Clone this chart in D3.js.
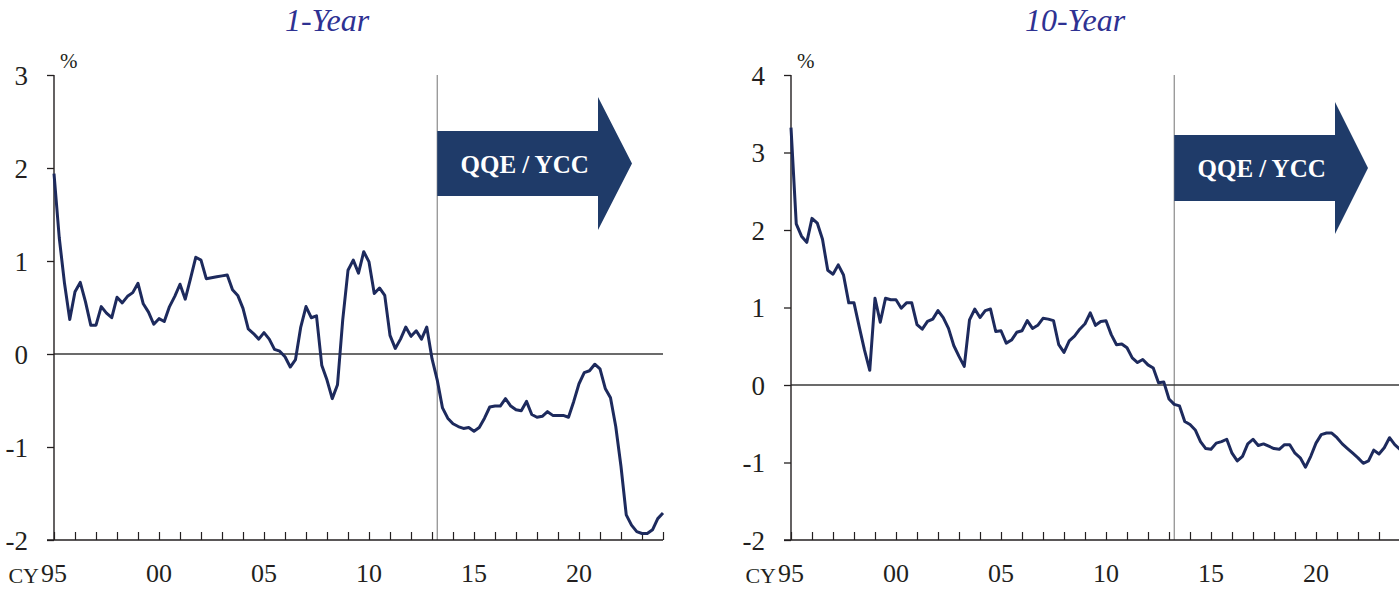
<!DOCTYPE html>
<html>
<head>
<meta charset="utf-8">
<script src="https://cdn.jsdelivr.net/npm/d3@7"></script>
<style>
  body { margin: 0; background: #fff; }
  text { font-family: "Liberation Serif", "Times New Roman", serif; }
</style>
</head>
<body>
<script>
// quarterly yields, 1995 Q1 .. 2024 Q1
var startYear = 1995;
var oneYear = [1.94, 1.25, 0.76, 0.37, 0.67, 0.77, 0.56, 0.31, 0.31, 0.51, 0.44, 0.39, 0.61, 0.55, 0.62, 0.66,
  0.76, 0.54, 0.45, 0.32, 0.38, 0.35, 0.51, 0.62, 0.75, 0.59, 0.81, 1.04, 1.01, 0.81, 0.82, 0.83,
  0.84, 0.85, 0.69, 0.63, 0.49, 0.27, 0.22, 0.16, 0.23, 0.16, 0.05, 0.03, -0.03, -0.14, -0.06, 0.29,
  0.51, 0.39, 0.41, -0.12, -0.28, -0.48, -0.33, 0.37, 0.90, 1.01, 0.87, 1.10, 0.99, 0.65, 0.71, 0.63,
  0.20, 0.06, 0.16, 0.29, 0.19, 0.25, 0.16, 0.29, -0.05, -0.28, -0.58, -0.69, -0.75, -0.78, -0.80, -0.79,
  -0.83, -0.79, -0.69, -0.57, -0.56, -0.56, -0.48, -0.56, -0.60, -0.61, -0.51, -0.65, -0.68, -0.67, -0.62, -0.66,
  -0.66, -0.66, -0.68, -0.51, -0.32, -0.20, -0.18, -0.11, -0.16, -0.37, -0.47, -0.78, -1.21, -1.73, -1.84, -1.91,
  -1.93, -1.93, -1.89, -1.77, -1.71];
var tenYear = [3.32, 2.08, 1.92, 1.84, 2.15, 2.09, 1.88, 1.48, 1.43, 1.55, 1.42, 1.06, 1.06, 0.75, 0.45, 0.19,
  1.12, 0.81, 1.12, 1.10, 1.10, 0.99, 1.06, 1.06, 0.78, 0.72, 0.82, 0.85, 0.96, 0.87, 0.73, 0.51,
  0.37, 0.24, 0.84, 0.98, 0.87, 0.96, 0.98, 0.69, 0.70, 0.54, 0.58, 0.68, 0.70, 0.83, 0.73, 0.77,
  0.86, 0.85, 0.83, 0.52, 0.42, 0.57, 0.63, 0.72, 0.79, 0.93, 0.77, 0.82, 0.83, 0.65, 0.52, 0.53,
  0.48, 0.35, 0.29, 0.33, 0.26, 0.22, 0.03, 0.04, -0.18, -0.25, -0.27, -0.47, -0.51, -0.58, -0.73, -0.82,
  -0.83, -0.75, -0.73, -0.70, -0.88, -0.98, -0.92, -0.76, -0.70, -0.78, -0.76, -0.79, -0.82, -0.83, -0.77, -0.77,
  -0.88, -0.94, -1.06, -0.92, -0.75, -0.64, -0.62, -0.62, -0.68, -0.76, -0.82, -0.88, -0.94, -1.01, -0.98, -0.84,
  -0.89, -0.81, -0.68, -0.77, -0.83];

var xTickLabels = ["95", "00", "05", "10", "15", "20"];
var oneYearTicks = [3, 2, 1, 0, -1, -2];
var tenYearTicks = [4, 3, 2, 1, 0, -1, -2];
var qqeStart = 2013.25;

var width = 1399, height = 590;
var ink = "#231f20";
var lineColor = "#1d2a5d";
var arrowColor = "#1f3b69";
var titleColor = "#2e3192";

var svg = d3.select("body").append("svg")
  .attr("width", width)
  .attr("height", height);

function drawPanel(opt) {
  var g = svg.append("g");
  var x = d3.scaleLinear().domain([1995, 2024]).range([opt.left, opt.left + 609]);
  var y = d3.scaleLinear().domain(opt.yDomain).range([540, 75]);
  var x0 = opt.left, xEnd = opt.left + 609;

  // title
  g.append("text")
    .attr("x", opt.titleX).attr("y", 31)
    .attr("text-anchor", "middle")
    .attr("font-style", "italic")
    .attr("font-size", 32)
    .attr("fill", titleColor)
    .text(opt.title);

  // QQE line
  g.append("line")
    .attr("x1", x(qqeStart)).attr("x2", x(qqeStart))
    .attr("y1", 75).attr("y2", 540)
    .attr("stroke", "#8a8a8a").attr("stroke-width", 1.2);

  // arrow
  var ax = x(qqeStart), ah = opt.arrow;
  var pts = [[ax, ah.top], [ah.headX, ah.top], [ah.headX, ah.headTop], [ah.tipX, ah.mid],
    [ah.headX, 2 * ah.mid - ah.headTop], [ah.headX, ah.bottom], [ax, ah.bottom]];
  g.append("path")
    .attr("d", d3.line()(pts) + "Z")
    .attr("fill", arrowColor);
  g.append("text")
    .attr("x", (ax + ah.headX) / 2 + 7).attr("y", ah.mid + 9)
    .attr("text-anchor", "middle")
    .attr("font-weight", "bold")
    .attr("font-size", 25)
    .attr("fill", "#fff")
    .text("QQE / YCC");

  // zero line
  g.append("line")
    .attr("x1", x0).attr("x2", xEnd)
    .attr("y1", y(0)).attr("y2", y(0))
    .attr("stroke", "#3a3a3a").attr("stroke-width", 1.3);

  // y axis
  var yAxis = g.append("g")
    .attr("transform", "translate(" + x0 + ",0)")
    .call(d3.axisLeft(y).tickValues(opt.yTicks).tickSize(7).tickPadding(19).tickFormat(d3.format("d")));
  yAxis.select(".domain").attr("stroke", ink).attr("stroke-width", 1.4).attr("d", "M0,75V540");
  yAxis.selectAll(".tick line").attr("stroke", ink).attr("stroke-width", 1.3);
  yAxis.selectAll(".tick text")
    .attr("font-family", "Liberation Serif")
    .attr("font-size", 27).attr("fill", ink)
    .attr("dy", "0.34em")
    .text(function(d) { return d < 0 ? "-" + Math.abs(d) : d; });

  // x axis
  var years = d3.range(1995, 2025);
  var xAxis = g.append("g")
    .attr("transform", "translate(0,540)")
    .call(d3.axisTop(x).tickValues(years).tickSize(8).tickFormat(""));
  xAxis.select(".domain").attr("stroke", ink).attr("stroke-width", 1.4)
    .attr("d", "M" + (x0 - 7) + ",0H" + xEnd);
  xAxis.selectAll(".tick line").attr("stroke", ink).attr("stroke-width", 1.2);

  g.selectAll(".xlab")
    .data(xTickLabels)
    .enter().append("text")
    .attr("x", function(d, i) { return x(1995 + i * 5); })
    .attr("y", 582)
    .attr("text-anchor", "middle")
    .attr("font-size", 26)
    .attr("fill", ink)
    .text(function(d) { return d; });

  g.append("text")
    .attr("x", x0 - 15).attr("y", 583)
    .attr("text-anchor", "end")
    .attr("font-size", 22)
    .attr("fill", ink)
    .text("CY");

  g.append("text")
    .attr("x", x0 + 6).attr("y", 68)
    .attr("font-size", 21)
    .attr("fill", ink)
    .text("%");

  // series
  var line = d3.line()
    .x(function(d, i) { return x(startYear + i / 4); })
    .y(function(d) { return y(d); });
  g.append("path")
    .datum(opt.data)
    .attr("d", line)
    .attr("fill", "none")
    .attr("stroke", lineColor)
    .attr("stroke-width", 3)
    .attr("stroke-linejoin", "round");
}

drawPanel({
  left: 54, title: "1-Year", titleX: 327, yDomain: [-2, 3], yTicks: oneYearTicks, data: oneYear,
  arrow: { top: 131, bottom: 196, headX: 598, headTop: 97, tipX: 632, mid: 163.5 }
});
drawPanel({
  left: 791, title: "10-Year", titleX: 1075, yDomain: [-2, 4], yTicks: tenYearTicks, data: tenYear,
  arrow: { top: 135, bottom: 201, headX: 1335, headTop: 102, tipX: 1368, mid: 168 }
});
</script>
</body>
</html>
